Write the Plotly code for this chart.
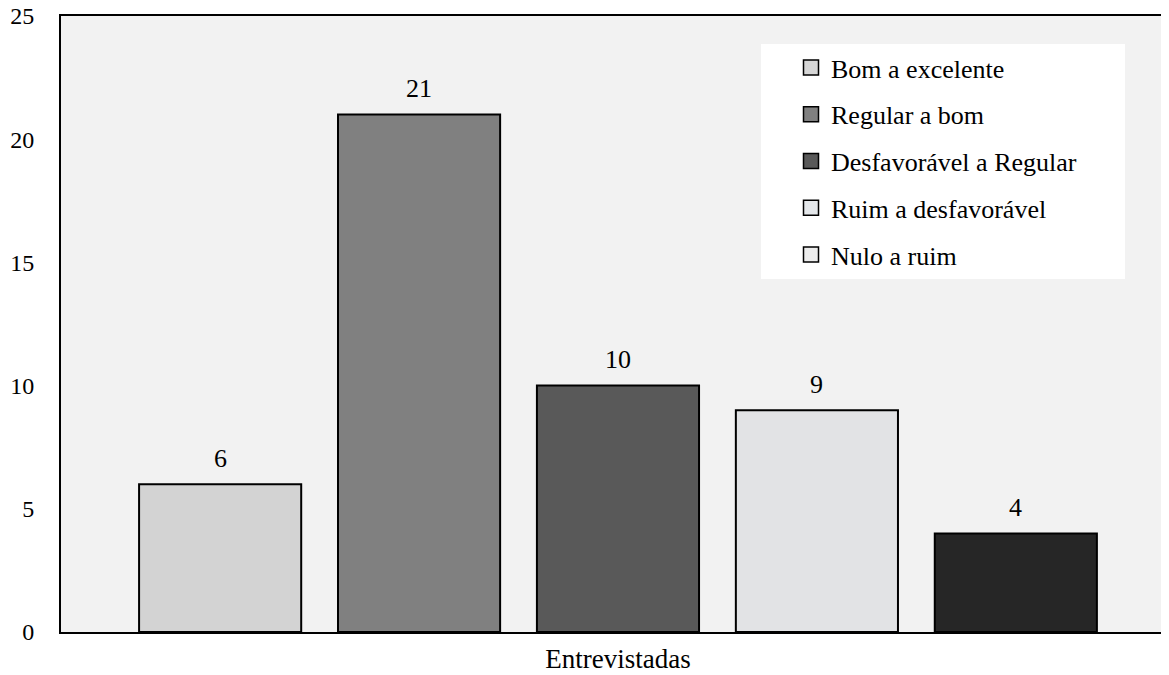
import plotly.graph_objects as go

category = ["Entrevistadas"]
series_names = ["Bom a excelente", "Regular a bom", "Desfavorável a Regular",
                "Ruim a desfavorável", "Nulo a ruim"]
series_values = [6, 21, 10, 9, 4]
bar_colors = ["#d3d3d3", "#808080", "#595959", "#e2e3e5", "#262626"]
legend_colors = ["#d6d6d6", "#808080", "#595959", "#e4e7ea", "#ececec"]
y_ticks = [0, 5, 10, 15, 20, 25]

FONT = "Liberation Serif, Times New Roman, serif"

# The page body has an 8px default margin; size the figure so that it fills
# the 1169x675 window exactly.
OFF = 8
W, H = 1169 - OFF, 675 - OFF
L, R, T, B = 61 - OFF, 0, 16 - OFF, 43
pw, ph = W - L - R, H - T - B


def px_x(x):
    return (x - OFF - L) / pw


def px_y(y):
    return 1 - (y - OFF - T) / ph


fig = go.Figure()
n = len(series_names)
for i, (name, val) in enumerate(zip(series_names, series_values)):
    fig.add_trace(go.Bar(
        x=[i], y=[val], name=name, showlegend=False, width=0.815,
        marker=dict(color=bar_colors[i], line=dict(color="#000000", width=2)),
    ))
    fig.add_annotation(x=i, y=val, text=str(val), showarrow=False,
                       yanchor="middle", yshift=26,
                       font=dict(family=FONT, size=26, color="#000000"))

for i, name in enumerate(series_names):
    fig.add_trace(go.Scatter(
        x=[None], y=[None], mode="markers", name=name,
        legendgroup=f"g{i}",
        marker=dict(symbol="square", size=15, color=legend_colors[i],
                    line=dict(color="#000000", width=1.5)),
    ))

fig.add_shape(type="rect", xref="paper", yref="paper",
              x0=px_x(761), x1=px_x(1125), y0=px_y(279), y1=px_y(44),
              fillcolor="#ffffff", line=dict(width=0), layer="below")

fig.update_layout(
    width=W, height=H,
    margin=dict(l=L, r=R, t=T, b=B),
    paper_bgcolor="#ffffff", plot_bgcolor="#f2f2f2",
    font=dict(family=FONT, size=24, color="#000000"),
    showlegend=True,
    legend=dict(x=px_x(791), y=px_y(44), xanchor="left", yanchor="top",
                bgcolor="rgba(0,0,0,0)", borderwidth=0,
                font=dict(family=FONT, size=26, color="#000000"),
                tracegroupgap=10, itemsizing="trace"),
    xaxis=dict(range=[-0.8, 4.77], tickvals=[(n - 1) / 2], ticktext=category,
               showline=True, linecolor="#000000", linewidth=2, mirror=True,
               ticks="", showgrid=False, zeroline=False, automargin=False,
               ticklabelstandoff=2, tickfont=dict(size=27),
               ticklabeloverflow="allow"),
    yaxis=dict(range=[0, 25], tickvals=y_ticks, showline=True, linecolor="#000000",
               linewidth=2, showgrid=False, zeroline=False, ticks="",
               automargin=False, ticklabelstandoff=20, tickfont=dict(size=24),
               ticklabeloverflow="allow"),
)

fig.write_html("out.html")
